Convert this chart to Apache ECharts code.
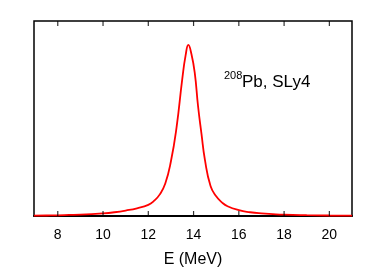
<!DOCTYPE html>
<html>
<head>
<meta charset="utf-8">
<script src="https://cdn.jsdelivr.net/npm/echarts@6/dist/echarts.min.js"></script>
<style>
html,body{margin:0;padding:0;background:#fff;}
#chart{width:382px;height:268px;}
</style>
</head>
<body>
<div id="chart"></div>
<script>
var energies = [6.95, 7.5, 8, 8.5, 9, 9.5, 10, 10.5, 11, 11.5, 12, 12.25, 12.5, 12.75, 13.0, 13.25, 13.5, 13.65, 13.77, 13.9, 14.05, 14.2, 14.35, 14.5, 14.75, 15.0, 15.25, 15.5, 16, 16.5, 17, 17.5, 18, 19, 20, 21];
var strength = [0.002, 0.003, 0.004, 0.006, 0.008, 0.011, 0.015, 0.022, 0.032, 0.045, 0.065, 0.088, 0.125, 0.19, 0.32, 0.52, 0.80, 0.94, 1.0, 0.95, 0.84, 0.64, 0.48, 0.33, 0.175, 0.115, 0.08, 0.057, 0.034, 0.022, 0.015, 0.011, 0.008, 0.005, 0.003, 0.002];
var xTicks = [8, 10, 12, 14, 16, 18, 20];
var yMin = 0, yMax = 1.14;
var xTitle = 'E (MeV)';
var labelSup = '208';
var labelMain = 'Pb, SLy4';

var pts = energies.map(function (e, i) { return [e, strength[i]]; });
var bottomTicks = xTicks.map(function (v) { return [v, yMin]; });
var topTicks = xTicks.map(function (v) { return [v, yMax]; });
var font = 'Liberation Sans, Arial, sans-serif';
var chart = echarts.init(document.getElementById('chart'), null, {renderer: 'canvas'});
chart.setOption({
  animation: false,
  grid: {left: 34, right: 30, top: 21, bottom: 52, outerBoundsMode: 'none', containLabel: false, show: true, borderColor: '#000', borderWidth: 1.5, backgroundColor: 'transparent'},
  xAxis: {
    type: 'value', min: 6.95, max: 21, position: 'bottom',
    name: xTitle, nameLocation: 'middle', nameGap: 36,
    nameTextStyle: {fontFamily: font, fontSize: 16, color: '#000'},
    axisLine: {show: true, lineStyle: {color: '#000', width: 2}},
    axisTick: {show: false},
    axisLabel: {customValues: xTicks, fontFamily: font, fontSize: 14, color: '#000', margin: 12},
    splitLine: {show: false}
  },
  yAxis: {
    type: 'value', min: yMin, max: yMax,
    axisLine: {show: false}, axisTick: {show: false}, axisLabel: {show: false}, splitLine: {show: false}
  },
  series: [{
    type: 'line', data: pts, smooth: 0.5, showSymbol: false, z: 3,
    lineStyle: {color: '#ff0000', width: 1.8}
  }, {
    type: 'scatter', data: bottomTicks, symbol: 'rect', symbolSize: [1.2, 5], symbolOffset: [0, -2.5],
    clip: false, silent: true, itemStyle: {color: '#000'}, z: 4
  }, {
    type: 'scatter', data: topTicks, symbol: 'rect', symbolSize: [1.2, 5], symbolOffset: [0, 2.5],
    clip: false, silent: true, itemStyle: {color: '#000'}, z: 4
  }],
  graphic: [
    {type: 'text', left: 224, top: 70, style: {text: labelSup, font: '11px ' + font, fill: '#000'}},
    {type: 'text', left: 242, top: 74, style: {text: labelMain, font: '17px ' + font, fill: '#000'}}
  ]
});
</script>
</body>
</html>
